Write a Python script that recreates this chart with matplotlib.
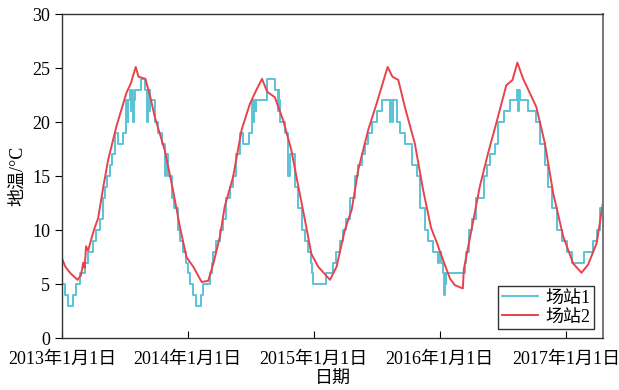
import pandas as pd
import matplotlib
matplotlib.use("Agg")
import matplotlib.pyplot as plt

plt.rcParams['font.family'] = ['Liberation Serif', 'Noto Sans CJK SC']
plt.rcParams['axes.unicode_minus'] = False

start = pd.Timestamp('2013-01-01')
end_day = 1568

# station 1: stepwise readings (day offset from 2013-01-01, value)
s1_days = [0, 9, 18, 33, 40, 52, 67, 76, 91, 100, 110, 120, 125, 132, 139, 146,
           154, 163, 178, 187, 191, 193, 197, 200, 202, 206, 208, 212, 216, 230,
           242, 247, 249, 252, 254, 256, 269, 279, 289, 298, 301, 308, 318, 325,
           337, 342, 352, 359, 366, 371, 381, 388, 402, 408, 429, 434, 439, 448,
           458, 468, 477, 487, 497, 506, 516, 526, 542, 550, 556, 558, 562, 564,
           593, 617, 625, 628, 630, 632, 646, 656, 660, 675, 685, 695, 704, 714,
           722, 726, 728, 764, 786, 795, 805, 815, 824, 834, 849, 859, 869, 878,
           888, 898, 912, 927, 950, 952, 958, 960, 972, 980, 994, 1014, 1028,
           1038, 1052, 1062, 1077, 1090, 1093, 1100, 1105, 1108, 1110, 1112,
           1114, 1167, 1172, 1180, 1190, 1200, 1222, 1232, 1241, 1255, 1265,
           1280, 1299, 1318, 1322, 1324, 1328, 1350, 1373, 1387, 1400, 1410,
           1420, 1434, 1448, 1463, 1478, 1512, 1539, 1551, 1560, 1568]
s1_vals = [5, 4, 3, 4, 5, 6, 7, 8, 9, 10, 11, 13, 14, 15, 16, 17,
           19, 18, 19, 22, 20, 22, 23, 21, 23, 20, 22, 23, 23, 24,
           23, 20, 23, 21, 23, 22, 20, 19, 18, 15, 17, 15, 13, 12,
           10, 9, 8, 7, 6, 5, 4, 3, 4, 5, 6, 7, 8, 9,
           10, 11, 13, 14, 15, 17, 19, 18, 19, 22, 20, 22, 21, 22,
           24, 23, 21, 23, 22, 20, 19, 15, 17, 14, 12, 10, 9, 8,
           7, 6, 5, 6, 7, 8, 9, 10, 11, 13, 15, 16, 17, 18,
           19, 20, 21, 22, 20, 22, 20, 22, 20, 19, 18, 16, 15,
           12, 10, 9, 8, 7, 8, 7, 6, 4, 6, 5,
           6, 7, 8, 10, 11, 13, 15, 16, 17, 18, 20,
           21, 22, 23, 21, 23, 22, 21, 20, 18, 16, 14,
           12, 10, 9, 8, 7, 8, 9, 10, 12, 12]

# station 2: smooth readings
s2_days = [0, 10, 25, 45, 55, 62, 66, 70, 76, 88, 96, 105, 120, 134, 158, 187,
           200, 214, 222, 242, 255, 269, 298, 322, 342, 361, 381, 405, 424, 439,
           458, 472, 496, 521, 545, 564, 580, 595, 617, 641, 665, 680, 704, 723,
           743, 777, 796, 820, 840, 859, 888, 912, 944, 958, 975, 994, 1023,
           1047, 1070, 1086, 1105, 1125, 1139, 1162, 1165, 1187, 1211, 1235,
           1259, 1288, 1306, 1320, 1337, 1356, 1375, 1400, 1424, 1453, 1482,
           1506, 1525, 1550, 1568]
s2_vals = [7.4, 6.6, 6.0, 5.4, 5.8, 7.0, 6.5, 8.5, 8.1, 9.5, 10.3, 11.1, 14.0,
           16.5, 19.6, 22.7, 23.6, 25.1, 24.2, 24.0, 22.5, 20.5, 17.4, 13.7,
           10.3, 7.5, 6.6, 5.2, 5.3, 6.9, 9.4, 12.2, 14.9, 19.3, 21.7, 23.0,
           24.0, 22.8, 22.3, 20.2, 17.4, 14.9, 11.0, 7.8, 6.6, 5.4, 6.6, 10.0,
           11.9, 15.6, 19.3, 21.7, 25.1, 24.2, 23.9, 21.4, 18.0, 13.7, 10.2,
           8.9, 7.2, 5.5, 4.9, 4.6, 6.4, 10.0, 14.0, 17.1, 19.9, 23.4, 23.9,
           25.5, 24.0, 22.7, 21.4, 18.0, 13.4, 9.4, 6.9, 6.05, 6.8, 8.8, 12.5]

tick_dates = ['2013-01-01', '2014-01-01', '2015-01-01', '2016-01-01', '2017-01-01']
tick_labels = ['2013年1月1日', '2014年1月1日', '2015年1月1日', '2016年1月1日', '2017年1月1日']

d1 = start + pd.to_timedelta(s1_days, unit='D')
d2 = start + pd.to_timedelta(s2_days, unit='D')

fig = plt.figure(figsize=(6.19, 3.90), dpi=100)
ax = fig.add_axes([0.100, 0.133, 0.874, 0.831])

ax.plot(d1, s1_vals, drawstyle='steps-post', color='#5bc3d6', lw=1.4, label='场站1')
ax.plot(d2, s2_vals, color='#e8424c', lw=1.4, label='场站2')

ax.set_xlim(start, start + pd.Timedelta(days=end_day))
ax.set_ylim(0, 30)
ax.set_yticks([0, 5, 10, 15, 20, 25, 30])
ax.set_xticks(pd.to_datetime(tick_dates))
ax.set_xticklabels(tick_labels)
ax.tick_params(axis='x', direction='in', length=5, labelsize=13, pad=9)
ax.tick_params(axis='y', direction='out', length=5, labelsize=13)
for s in ax.spines.values():
    s.set_color('#333333')
    s.set_linewidth(1.0)
ax.spines['right'].set_color('#777777')
ax.spines['right'].set_linewidth(1.4)

ax.set_xlabel('日期', fontsize=13, labelpad=2)
ax.set_ylabel('地温/°C', fontsize=13, labelpad=4)

leg = ax.legend(loc='lower right', fontsize=13, frameon=True, fancybox=False,
                handlelength=2.0, handletextpad=0.4, borderpad=0.2,
                labelspacing=0.1, borderaxespad=0.5)
leg.get_frame().set_edgecolor('black')
leg.get_frame().set_linewidth(1.0)

fig.savefig('out.png', dpi=100)
